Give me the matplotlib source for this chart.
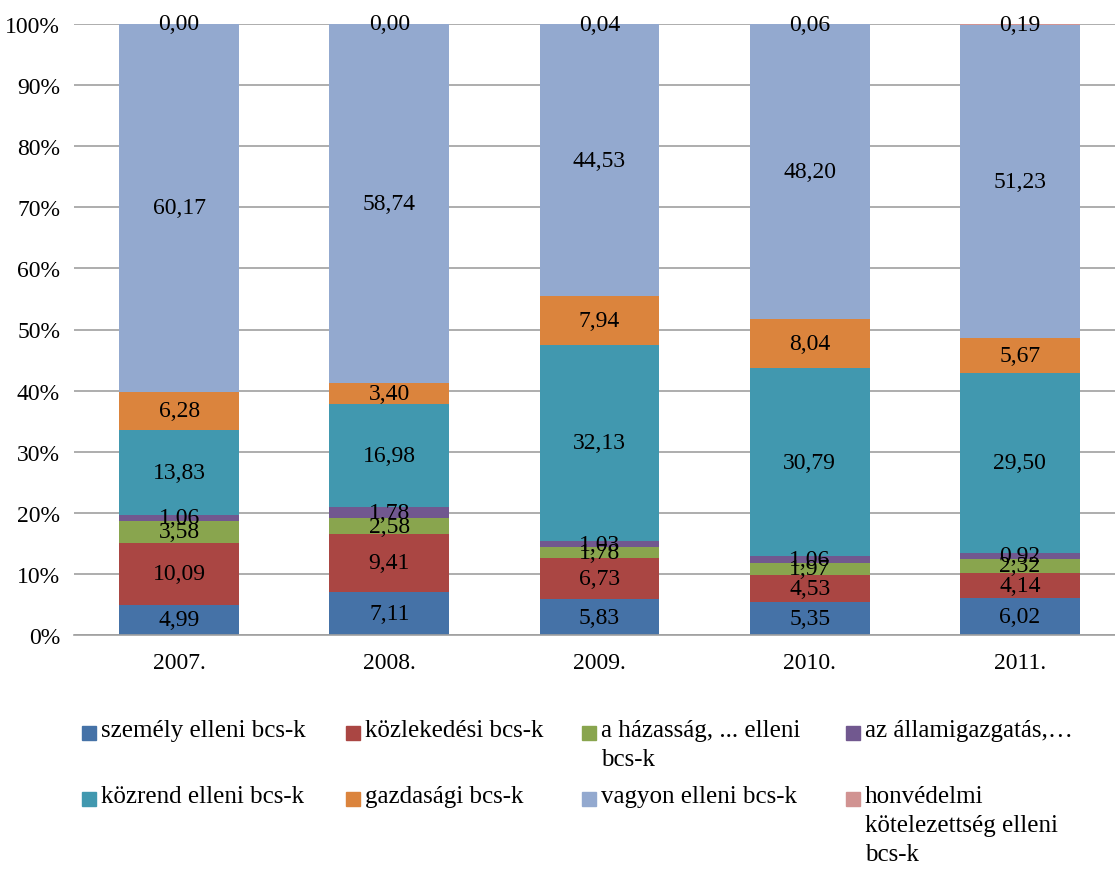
import matplotlib.pyplot as plt
import numpy as np
from matplotlib.patches import Rectangle

plt.rcParams['font.family'] = ['Liberation Serif', 'DejaVu Serif']

years = ['2007.', '2008.', '2009.', '2010.', '2011.']
series_names = ['személy elleni bcs-k', 'közlekedési bcs-k', 'a házasság, ... elleni\nbcs-k',
                'az államigazgatás,…', 'közrend elleni bcs-k', 'gazdasági bcs-k',
                'vagyon elleni bcs-k', 'honvédelmi\nkötelezettség elleni\nbcs-k']
szemely = [4.99, 7.11, 5.83, 5.35, 6.02]
kozlekedesi = [10.09, 9.41, 6.73, 4.53, 4.14]
hazassag = [3.58, 2.58, 1.78, 1.97, 2.32]
allamigazgatas = [1.06, 1.78, 1.03, 1.06, 0.92]
kozrend = [13.83, 16.98, 32.13, 30.79, 29.50]
gazdasagi = [6.28, 3.40, 7.94, 8.04, 5.67]
vagyon = [60.17, 58.74, 44.53, 48.20, 51.23]
honvedelmi = [0.00, 0.00, 0.04, 0.06, 0.19]
colors = ['#4572A7', '#AA4643', '#89A54E', '#71588F', '#4198AF', '#DB843D', '#93A9CF', '#D19392']

data = np.array([szemely, kozlekedesi, hazassag, allamigazgatas,
                 kozrend, gazdasagi, vagyon, honvedelmi])
totals = data.sum(axis=0)
shares = data / totals * 100

W, H = 1115.0, 870.0
fig = plt.figure(figsize=(11.15, 8.7), dpi=100)
# plot area from x=74 to x=1125 (runs slightly past the right edge), y=25 to 636
ax = fig.add_axes([74 / W, 1 - 636 / H, 1051 / W, 611 / H])

x = np.arange(len(years))
bottom = np.zeros(len(years))
for i in range(len(data)):
    bars = ax.bar(x, shares[i], bottom=bottom, width=0.57, color=colors[i], zorder=2)
    labels = ['{:.2f}'.format(v).replace('.', ',') for v in data[i]]
    ax.bar_label(bars, labels=labels, label_type='center', fontsize=17, color='black')
    bottom += shares[i]

ax.set_xlim(-0.5, len(years) - 0.5)
ax.set_ylim(0, 100)
ax.set_yticks(range(0, 101, 10))
ax.set_yticklabels(['{}%'.format(t) for t in range(0, 101, 10)], fontsize=17)
ax.set_xticks(x)
ax.set_xticklabels(years, fontsize=17)
ax.tick_params(axis='both', length=0)
ax.tick_params(axis='x', pad=12)
ax.tick_params(axis='y', pad=10)
ax.yaxis.grid(True, color='#A0A0A0', linewidth=1.2, zorder=0)
ax.set_axisbelow(True)
for s in ['top', 'right', 'left']:
    ax.spines[s].set_visible(False)
ax.spines['bottom'].set_color('#A0A0A0')
ax.spines['bottom'].set_linewidth(1.2)

# legend drawn by hand, 4 columns x 2 rows
col_x = [82, 346, 582, 846]
row_y = [734, 800]
for k, name in enumerate(series_names):
    r, c = divmod(k, 4)
    px, py = col_x[c], row_y[r]
    fig.add_artist(Rectangle((px / W, 1 - (py + 7) / H), 14 / W, 14 / H,
                             transform=fig.transFigure, color=colors[k]))
    fig.text((px + 19) / W, 1 - (py - 14) / H, name, fontsize=18, va='top', ha='left',
             linespacing=1.42)

fig.savefig('out.png', dpi=100)
